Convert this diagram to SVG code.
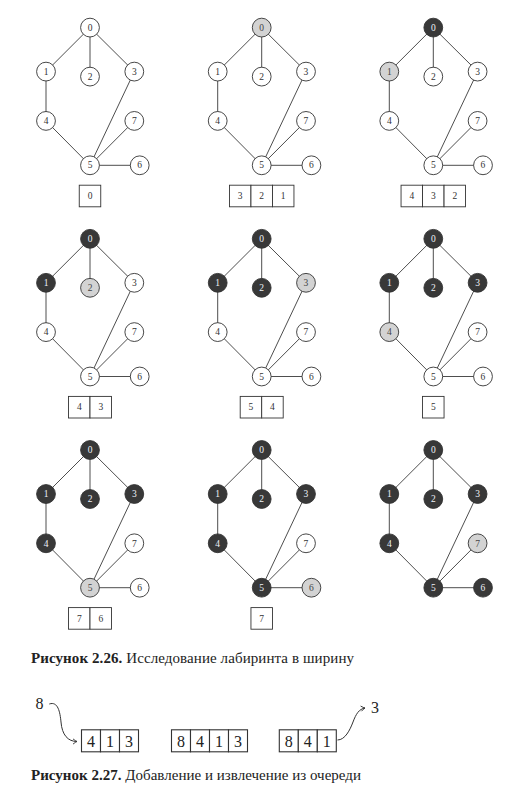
<svg xmlns="http://www.w3.org/2000/svg" xmlns:xlink="http://www.w3.org/1999/xlink" width="527" height="788" viewBox="0 0 527 788">
<style>
.edge{fill:none;stroke:#3a3a3a;stroke-width:0.9}
.node circle{stroke:#333;stroke-width:0.9}
.node text{font-family:"Liberation Serif",serif;font-size:9.5px;text-anchor:middle}
.w circle{fill:#fff}.w text{fill:#333}
.g circle{fill:#d3d3d3}.g text{fill:#444}
.b circle{fill:#383838}.b text{fill:#eef2f8}
.cell rect{fill:#fff;stroke:#333;stroke-width:0.9}
.cell text{font-family:"Liberation Serif",serif;font-size:9.5px;text-anchor:middle;fill:#333}
.qcell rect{fill:#fff;stroke:#333;stroke-width:1.1}
.qcell text{font-family:"Liberation Serif",serif;font-size:16px;text-anchor:middle;fill:#222}
.lbl{font-family:"Liberation Serif",serif;font-size:16px;text-anchor:middle;fill:#222}
.cap{font-family:"Liberation Serif",serif;font-size:15px;fill:#222}
.cap .bd{font-weight:bold}
.arr{fill:none;stroke:#333;stroke-width:1}
</style>
<defs>
<path id="edgeset" class="edge" d="M0,0L-44,44M0,0L0,49M0,0L44.3,44M-44,44L-44,93.3M-44,93.3L0,137.7M44.3,44L0,137.7M44.3,93.3L0,137.7M0,137.7L49.7,137.7"/>
<marker id="ah" viewBox="-5 -4 6 8" refX="0" refY="0" markerWidth="6" markerHeight="8" markerUnits="userSpaceOnUse" orient="auto">
<path d="M-4,-2.6Q-1.5,-0.6 0,0Q-1.5,0.6 -4,2.6" fill="none" stroke="#333" stroke-width="0.9"/>
</marker>
</defs>
<g id="connectors">
<use xlink:href="#edgeset" href="#edgeset" x="90" y="27.6"/>
<use xlink:href="#edgeset" href="#edgeset" x="261.7" y="27.6"/>
<use xlink:href="#edgeset" href="#edgeset" x="433.3" y="27.6"/>
<use xlink:href="#edgeset" href="#edgeset" x="90" y="238.8"/>
<use xlink:href="#edgeset" href="#edgeset" x="261.7" y="238.8"/>
<use xlink:href="#edgeset" href="#edgeset" x="433.3" y="238.8"/>
<use xlink:href="#edgeset" href="#edgeset" x="90" y="450"/>
<use xlink:href="#edgeset" href="#edgeset" x="261.7" y="450"/>
<use xlink:href="#edgeset" href="#edgeset" x="433.3" y="450"/>
<path id="arrow-in" class="arr" d="M49.3,704C58,701 60,712 61,722C62,735 68,741.5 77,741.5" marker-end="url(#ah)"/>
<path id="arrow-out" class="arr" d="M337.5,740C345,740 350,730 353,722C356,714 359,709 365,708" marker-end="url(#ah)"/>
</g>

<g id="p1" transform="translate(90,27.6)">
<g id="p1-n0" class="node w"><circle cx="0" cy="0" r="9.4"/><text x="0" y="3.2">0</text></g>
<g id="p1-n1" class="node w"><circle cx="-44" cy="44" r="9.4"/><text x="-44" y="47.2">1</text></g>
<g id="p1-n2" class="node w"><circle cx="0" cy="49" r="9.4"/><text x="0" y="52.2">2</text></g>
<g id="p1-n3" class="node w"><circle cx="44.3" cy="44" r="9.4"/><text x="44.3" y="47.2">3</text></g>
<g id="p1-n4" class="node w"><circle cx="-44" cy="93.3" r="9.4"/><text x="-44" y="96.5">4</text></g>
<g id="p1-n5" class="node w"><circle cx="0" cy="137.7" r="9.4"/><text x="0" y="140.9">5</text></g>
<g id="p1-n6" class="node w"><circle cx="49.7" cy="137.7" r="9.4"/><text x="49.7" y="140.9">6</text></g>
<g id="p1-n7" class="node w"><circle cx="44.3" cy="93.3" r="9.4"/><text x="44.3" y="96.5">7</text></g>
<g id="p1-queue" class="cell"><rect x="-10.75" y="157.6" width="21.5" height="21.6"/><text x="0" y="171.6">0</text></g>
</g>

<g id="p2" transform="translate(261.7,27.6)">
<g id="p2-n0" class="node g"><circle cx="0" cy="0" r="9.4"/><text x="0" y="3.2">0</text></g>
<g id="p2-n1" class="node w"><circle cx="-44" cy="44" r="9.4"/><text x="-44" y="47.2">1</text></g>
<g id="p2-n2" class="node w"><circle cx="0" cy="49" r="9.4"/><text x="0" y="52.2">2</text></g>
<g id="p2-n3" class="node w"><circle cx="44.3" cy="44" r="9.4"/><text x="44.3" y="47.2">3</text></g>
<g id="p2-n4" class="node w"><circle cx="-44" cy="93.3" r="9.4"/><text x="-44" y="96.5">4</text></g>
<g id="p2-n5" class="node w"><circle cx="0" cy="137.7" r="9.4"/><text x="0" y="140.9">5</text></g>
<g id="p2-n6" class="node w"><circle cx="49.7" cy="137.7" r="9.4"/><text x="49.7" y="140.9">6</text></g>
<g id="p2-n7" class="node w"><circle cx="44.3" cy="93.3" r="9.4"/><text x="44.3" y="96.5">7</text></g>
<g id="p2-queue" class="cell"><rect x="-32.25" y="157.6" width="21.5" height="21.6"/><text x="-21.5" y="171.6">3</text><rect x="-10.75" y="157.6" width="21.5" height="21.6"/><text x="0" y="171.6">2</text><rect x="10.75" y="157.6" width="21.5" height="21.6"/><text x="21.5" y="171.6">1</text></g>
</g>

<g id="p3" transform="translate(433.3,27.6)">
<g id="p3-n0" class="node b"><circle cx="0" cy="0" r="9.4"/><text x="0" y="3.2">0</text></g>
<g id="p3-n1" class="node g"><circle cx="-44" cy="44" r="9.4"/><text x="-44" y="47.2">1</text></g>
<g id="p3-n2" class="node w"><circle cx="0" cy="49" r="9.4"/><text x="0" y="52.2">2</text></g>
<g id="p3-n3" class="node w"><circle cx="44.3" cy="44" r="9.4"/><text x="44.3" y="47.2">3</text></g>
<g id="p3-n4" class="node w"><circle cx="-44" cy="93.3" r="9.4"/><text x="-44" y="96.5">4</text></g>
<g id="p3-n5" class="node w"><circle cx="0" cy="137.7" r="9.4"/><text x="0" y="140.9">5</text></g>
<g id="p3-n6" class="node w"><circle cx="49.7" cy="137.7" r="9.4"/><text x="49.7" y="140.9">6</text></g>
<g id="p3-n7" class="node w"><circle cx="44.3" cy="93.3" r="9.4"/><text x="44.3" y="96.5">7</text></g>
<g id="p3-queue" class="cell"><rect x="-32.25" y="157.6" width="21.5" height="21.6"/><text x="-21.5" y="171.6">4</text><rect x="-10.75" y="157.6" width="21.5" height="21.6"/><text x="0" y="171.6">3</text><rect x="10.75" y="157.6" width="21.5" height="21.6"/><text x="21.5" y="171.6">2</text></g>
</g>

<g id="p4" transform="translate(90,238.8)">
<g id="p4-n0" class="node b"><circle cx="0" cy="0" r="9.4"/><text x="0" y="3.2">0</text></g>
<g id="p4-n1" class="node b"><circle cx="-44" cy="44" r="9.4"/><text x="-44" y="47.2">1</text></g>
<g id="p4-n2" class="node g"><circle cx="0" cy="49" r="9.4"/><text x="0" y="52.2">2</text></g>
<g id="p4-n3" class="node w"><circle cx="44.3" cy="44" r="9.4"/><text x="44.3" y="47.2">3</text></g>
<g id="p4-n4" class="node w"><circle cx="-44" cy="93.3" r="9.4"/><text x="-44" y="96.5">4</text></g>
<g id="p4-n5" class="node w"><circle cx="0" cy="137.7" r="9.4"/><text x="0" y="140.9">5</text></g>
<g id="p4-n6" class="node w"><circle cx="49.7" cy="137.7" r="9.4"/><text x="49.7" y="140.9">6</text></g>
<g id="p4-n7" class="node w"><circle cx="44.3" cy="93.3" r="9.4"/><text x="44.3" y="96.5">7</text></g>
<g id="p4-queue" class="cell"><rect x="-21.5" y="157.6" width="21.5" height="21.6"/><text x="-10.75" y="171.6">4</text><rect x="0" y="157.6" width="21.5" height="21.6"/><text x="10.75" y="171.6">3</text></g>
</g>

<g id="p5" transform="translate(261.7,238.8)">
<g id="p5-n0" class="node b"><circle cx="0" cy="0" r="9.4"/><text x="0" y="3.2">0</text></g>
<g id="p5-n1" class="node b"><circle cx="-44" cy="44" r="9.4"/><text x="-44" y="47.2">1</text></g>
<g id="p5-n2" class="node b"><circle cx="0" cy="49" r="9.4"/><text x="0" y="52.2">2</text></g>
<g id="p5-n3" class="node g"><circle cx="44.3" cy="44" r="9.4"/><text x="44.3" y="47.2">3</text></g>
<g id="p5-n4" class="node w"><circle cx="-44" cy="93.3" r="9.4"/><text x="-44" y="96.5">4</text></g>
<g id="p5-n5" class="node w"><circle cx="0" cy="137.7" r="9.4"/><text x="0" y="140.9">5</text></g>
<g id="p5-n6" class="node w"><circle cx="49.7" cy="137.7" r="9.4"/><text x="49.7" y="140.9">6</text></g>
<g id="p5-n7" class="node w"><circle cx="44.3" cy="93.3" r="9.4"/><text x="44.3" y="96.5">7</text></g>
<g id="p5-queue" class="cell"><rect x="-21.5" y="157.6" width="21.5" height="21.6"/><text x="-10.75" y="171.6">5</text><rect x="0" y="157.6" width="21.5" height="21.6"/><text x="10.75" y="171.6">4</text></g>
</g>

<g id="p6" transform="translate(433.3,238.8)">
<g id="p6-n0" class="node b"><circle cx="0" cy="0" r="9.4"/><text x="0" y="3.2">0</text></g>
<g id="p6-n1" class="node b"><circle cx="-44" cy="44" r="9.4"/><text x="-44" y="47.2">1</text></g>
<g id="p6-n2" class="node b"><circle cx="0" cy="49" r="9.4"/><text x="0" y="52.2">2</text></g>
<g id="p6-n3" class="node b"><circle cx="44.3" cy="44" r="9.4"/><text x="44.3" y="47.2">3</text></g>
<g id="p6-n4" class="node g"><circle cx="-44" cy="93.3" r="9.4"/><text x="-44" y="96.5">4</text></g>
<g id="p6-n5" class="node w"><circle cx="0" cy="137.7" r="9.4"/><text x="0" y="140.9">5</text></g>
<g id="p6-n6" class="node w"><circle cx="49.7" cy="137.7" r="9.4"/><text x="49.7" y="140.9">6</text></g>
<g id="p6-n7" class="node w"><circle cx="44.3" cy="93.3" r="9.4"/><text x="44.3" y="96.5">7</text></g>
<g id="p6-queue" class="cell"><rect x="-10.75" y="157.6" width="21.5" height="21.6"/><text x="0" y="171.6">5</text></g>
</g>

<g id="p7" transform="translate(90,450)">
<g id="p7-n0" class="node b"><circle cx="0" cy="0" r="9.4"/><text x="0" y="3.2">0</text></g>
<g id="p7-n1" class="node b"><circle cx="-44" cy="44" r="9.4"/><text x="-44" y="47.2">1</text></g>
<g id="p7-n2" class="node b"><circle cx="0" cy="49" r="9.4"/><text x="0" y="52.2">2</text></g>
<g id="p7-n3" class="node b"><circle cx="44.3" cy="44" r="9.4"/><text x="44.3" y="47.2">3</text></g>
<g id="p7-n4" class="node b"><circle cx="-44" cy="93.3" r="9.4"/><text x="-44" y="96.5">4</text></g>
<g id="p7-n5" class="node g"><circle cx="0" cy="137.7" r="9.4"/><text x="0" y="140.9">5</text></g>
<g id="p7-n6" class="node w"><circle cx="49.7" cy="137.7" r="9.4"/><text x="49.7" y="140.9">6</text></g>
<g id="p7-n7" class="node w"><circle cx="44.3" cy="93.3" r="9.4"/><text x="44.3" y="96.5">7</text></g>
<g id="p7-queue" class="cell"><rect x="-21.5" y="157.6" width="21.5" height="21.6"/><text x="-10.75" y="171.6">7</text><rect x="0" y="157.6" width="21.5" height="21.6"/><text x="10.75" y="171.6">6</text></g>
</g>

<g id="p8" transform="translate(261.7,450)">
<g id="p8-n0" class="node b"><circle cx="0" cy="0" r="9.4"/><text x="0" y="3.2">0</text></g>
<g id="p8-n1" class="node b"><circle cx="-44" cy="44" r="9.4"/><text x="-44" y="47.2">1</text></g>
<g id="p8-n2" class="node b"><circle cx="0" cy="49" r="9.4"/><text x="0" y="52.2">2</text></g>
<g id="p8-n3" class="node b"><circle cx="44.3" cy="44" r="9.4"/><text x="44.3" y="47.2">3</text></g>
<g id="p8-n4" class="node b"><circle cx="-44" cy="93.3" r="9.4"/><text x="-44" y="96.5">4</text></g>
<g id="p8-n5" class="node b"><circle cx="0" cy="137.7" r="9.4"/><text x="0" y="140.9">5</text></g>
<g id="p8-n6" class="node g"><circle cx="49.7" cy="137.7" r="9.4"/><text x="49.7" y="140.9">6</text></g>
<g id="p8-n7" class="node w"><circle cx="44.3" cy="93.3" r="9.4"/><text x="44.3" y="96.5">7</text></g>
<g id="p8-queue" class="cell"><rect x="-10.75" y="157.6" width="21.5" height="21.6"/><text x="0" y="171.6">7</text></g>
</g>

<g id="p9" transform="translate(433.3,450)">
<g id="p9-n0" class="node b"><circle cx="0" cy="0" r="9.4"/><text x="0" y="3.2">0</text></g>
<g id="p9-n1" class="node b"><circle cx="-44" cy="44" r="9.4"/><text x="-44" y="47.2">1</text></g>
<g id="p9-n2" class="node b"><circle cx="0" cy="49" r="9.4"/><text x="0" y="52.2">2</text></g>
<g id="p9-n3" class="node b"><circle cx="44.3" cy="44" r="9.4"/><text x="44.3" y="47.2">3</text></g>
<g id="p9-n4" class="node b"><circle cx="-44" cy="93.3" r="9.4"/><text x="-44" y="96.5">4</text></g>
<g id="p9-n5" class="node b"><circle cx="0" cy="137.7" r="9.4"/><text x="0" y="140.9">5</text></g>
<g id="p9-n6" class="node b"><circle cx="49.7" cy="137.7" r="9.4"/><text x="49.7" y="140.9">6</text></g>
<g id="p9-n7" class="node g"><circle cx="44.3" cy="93.3" r="9.4"/><text x="44.3" y="96.5">7</text></g>
</g>

<text id="caption-226" class="cap" x="31" y="663" textLength="323" lengthAdjust="spacing"><tspan class="bd">Рисунок 2.26.</tspan> Исследование лабиринта в ширину</text>

<text id="label-8" class="lbl" x="39.5" y="708.5">8</text>
<g id="queue-a" class="qcell">
<rect x="81.5" y="729.8" width="19" height="22"/><text x="91" y="746.5">4</text>
<rect x="100.5" y="729.8" width="19" height="22"/><text x="110" y="746.5">1</text>
<rect x="119.5" y="729.8" width="19" height="22"/><text x="129" y="746.5">3</text>
</g>
<g id="queue-b" class="qcell">
<rect x="171.5" y="729.8" width="19" height="22"/><text x="181" y="746.5">8</text>
<rect x="190.5" y="729.8" width="19" height="22"/><text x="200" y="746.5">4</text>
<rect x="209.5" y="729.8" width="19" height="22"/><text x="219" y="746.5">1</text>
<rect x="228.5" y="729.8" width="19" height="22"/><text x="238" y="746.5">3</text>
</g>
<g id="queue-c" class="qcell">
<rect x="279.3" y="729.8" width="19" height="22"/><text x="288.8" y="746.5">8</text>
<rect x="298.3" y="729.8" width="19" height="22"/><text x="307.8" y="746.5">4</text>
<rect x="317.3" y="729.8" width="19" height="22"/><text x="326.8" y="746.5">1</text>
</g>
<text id="label-3" class="lbl" x="375" y="713">3</text>

<text id="caption-227" class="cap" x="31" y="780" textLength="330" lengthAdjust="spacing"><tspan class="bd">Рисунок 2.27.</tspan> Добавление и извлечение из очереди</text>
</svg>
